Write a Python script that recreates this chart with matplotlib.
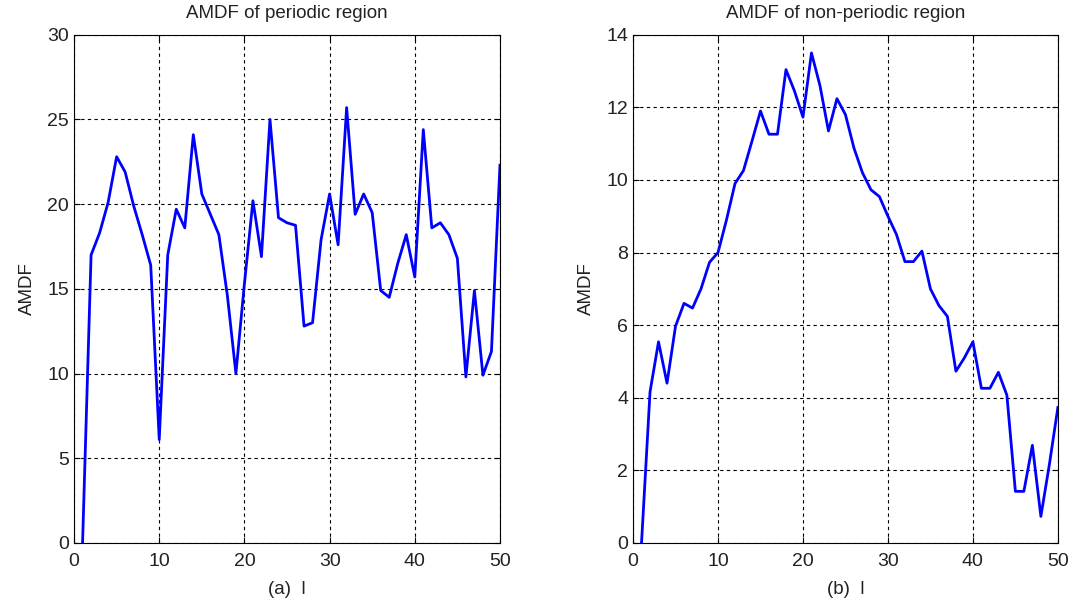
import matplotlib.pyplot as plt

lags = list(range(1, 51))

amdf_periodic = [0.0, 17.0, 18.3, 20.1, 22.8, 21.9, 19.9, 18.2, 16.4, 6.1,
                 17.0, 19.7, 18.6, 24.1, 20.6, 19.4, 18.2, 14.6, 10.0, 15.3,
                 20.2, 16.9, 25.0, 19.2, 18.9, 18.75, 12.8, 13.0, 17.9, 20.6,
                 17.6, 25.7, 19.4, 20.6, 19.5, 14.9, 14.5, 16.5, 18.2, 15.7,
                 24.4, 18.6, 18.9, 18.2, 16.8, 9.8, 14.9, 9.9, 11.3, 22.3]

amdf_nonperiodic = [0.0, 4.16, 5.54, 4.4, 5.97, 6.6, 6.47, 7.0, 7.73, 8.0,
                    8.9, 9.9, 10.26, 11.07, 11.9, 11.26, 11.26, 13.04, 12.45, 11.73,
                    13.5, 12.6, 11.35, 12.24, 11.8, 10.88, 10.2, 9.73, 9.54, 9.0,
                    8.5, 7.75, 7.75, 8.04, 7.0, 6.54, 6.24, 4.73, 5.1, 5.54,
                    4.26, 4.26, 4.7, 4.07, 1.42, 1.42, 2.69, 0.73, 2.16, 3.73]

plt.rcParams['font.family'] = ['Liberation Sans', 'DejaVu Sans']

fig = plt.figure(figsize=(10.81, 6.10), dpi=100)

ax_a = fig.add_axes([0.0685, 0.11, 0.394, 0.833])
ax_b = fig.add_axes([0.5856, 0.11, 0.393, 0.833])

panels = [
    (ax_a, amdf_periodic, 'AMDF of periodic region', '(a)  l', (0, 30), range(0, 31, 5)),
    (ax_b, amdf_nonperiodic, 'AMDF of non-periodic region', '(b)  l', (0, 14), range(0, 15, 2)),
]

for ax, vals, title, xlab, ylim, yticks in panels:
    ax.plot(lags, vals, color='#0000ff', linewidth=2)
    ax.set_xlim(0, 50)
    ax.set_ylim(*ylim)
    ax.set_xticks(range(0, 51, 10))
    ax.set_yticks(list(yticks))
    ax.set_title(title, fontsize=13.5, pad=12, color='#222222')
    ax.set_xlabel(xlab, fontsize=13.5, labelpad=8, color='#222222')
    ax.set_ylabel('AMDF', fontsize=13.5, labelpad=8, color='#222222')
    ax.grid(True, color='black', linestyle=(0, (3, 3)), linewidth=0.8)
    ax.tick_params(direction='in', top=True, right=True, length=4,
                   labelsize=14, labelcolor='#222222')
    ax.tick_params(axis='x', pad=7)
    for side in ['bottom', 'left', 'top', 'right']:
        ax.spines[side].set_linewidth(0.8)

fig.savefig('out.png', dpi=100, facecolor='white')
